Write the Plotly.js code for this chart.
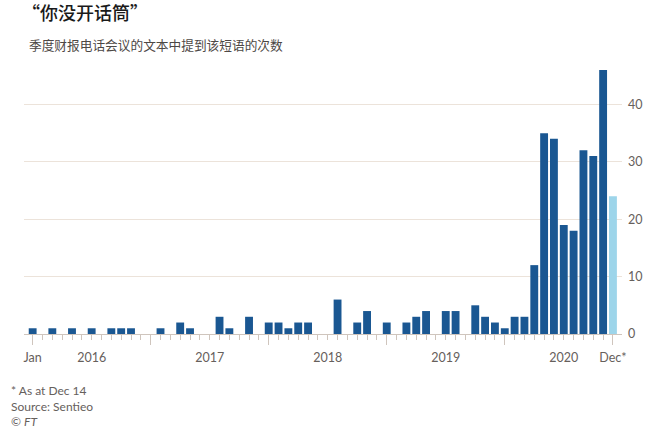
<!DOCTYPE html>
<html>
<head>
<meta charset="utf-8">
<script src="https://cdn.plot.ly/plotly-3.0.1.min.js"></script>
<style>html,body{margin:0;padding:0;background:#fff}#chart{width:649px;height:433px}</style>
</head>
<body>
<div id="chart"></div>
<script>
// Monthly counts, Jan 2016 .. Dec 2020 (Dec 2020 partial, as at Dec 14)
const months = [];
for (let i = 0; i < 60; i++) months.push(i);
const counts = [
  1,0,1,0,1,0,1,0,1,1,1,0,      // 2016
  0,1,0,2,1,0,0,3,1,0,3,0,      // 2017
  2,2,1,2,2,0,0,6,0,2,4,0,      // 2018
  2,0,2,3,4,0,4,4,0,5,3,2,      // 2019
  1,3,3,12,35,34,19,18,32,31,46,24 // 2020
];
const barColors = counts.map((v, i) => i === 59 ? '#9dd5ea' : '#1a5792');
const majorTickVals = [0, 12, 24, 36, 48, 59];
const labelVals = [0, 6, 18, 30, 42, 54, 59];
const labelText = ['Jan', '2016', '2017', '2018', '2019', '2020', 'Dec*'];
const yTickVals = [0, 10, 20, 30, 40];

const FONT = "Lato, 'Noto Sans CJK SC', sans-serif";
const grey = '#66605c';

const data = [
  {
    type: 'bar', x: months, y: counts,
    marker: { color: barColors, line: { width: 0 } },
    hoverinfo: 'skip'
  },
  { type: 'scatter', x: [], y: [], xaxis: 'x2', hoverinfo: 'skip', showlegend: false }
];

const layout = {
  width: 649, height: 433,
  margin: { l: 24, r: 27, t: 65, b: 98.5 },
  paper_bgcolor: '#fff', plot_bgcolor: '#fff',
  showlegend: false,
  bargap: 0.2,
  font: { family: FONT, color: grey, size: 12 },
  title: {
    text: '“你没开话筒”',
    xref: 'container', yref: 'container',
    x: 22 / 649, xanchor: 'left',
    y: 1 - 14 / 433, yanchor: 'middle',
    font: { family: "'Noto Sans CJK SC', sans-serif", size: 18, color: '#1a1a1a', weight: 500 }
  },
  annotations: [
    {
      text: '季度财报电话会议的文本中提到该短语的次数',
      xref: 'paper', yref: 'paper',
      x: (27 - 24) / 598, xanchor: 'left',
      y: (334.5 - 44) / 269.5, yanchor: 'middle',
      showarrow: false,
      font: { family: "'Noto Sans CJK SC', sans-serif", size: 12.7, color: '#4d4845' }
    },
    {
      text: '* As at Dec 14<br>Source: Sentieo<br>© <i>FT</i>',
      xref: 'paper', yref: 'paper',
      x: (9 - 24) / 598, xanchor: 'left',
      y: (334.5 - 382) / 269.5, yanchor: 'top',
      align: 'left',
      showarrow: false,
      font: { family: FONT, size: 12, color: grey }
    }
  ],
  xaxis: {
    range: [-0.88, 59.92],
    fixedrange: true,
    showgrid: false, zeroline: false,
    showline: true, linecolor: '#cfc5bd', linewidth: 1,
    tickmode: 'array', tickvals: majorTickVals,
    ticktext: majorTickVals.map(() => ''),
    ticks: 'outside', ticklen: 10, tickcolor: '#cfc5bd', tickwidth: 1,
    minor: { dtick: 1, tick0: 0, ticks: 'outside', ticklen: 5, tickcolor: '#cfc5bd', tickwidth: 1, showgrid: false }
  },
  xaxis2: {
    overlaying: 'x', matches: 'x', anchor: 'y', side: 'bottom',
    range: [-0.88, 59.92],
    showgrid: false, zeroline: false, showline: false,
    tickmode: 'array', tickvals: labelVals, ticktext: labelText,
    ticks: 'outside', ticklen: 10, tickcolor: 'rgba(0,0,0,0)',
    ticklabelstandoff: 2,
    tickfont: { family: FONT, size: 12.5, color: grey }
  },
  yaxis: {
    range: [0, 46.87],
    fixedrange: true,
    side: 'right',
    tickmode: 'array', tickvals: yTickVals,
    showgrid: true, gridcolor: '#ece3da', gridwidth: 1,
    zeroline: false, showline: false, ticks: '',
    ticklabelstandoff: 5,
    tickfont: { family: FONT, size: 12.5, color: grey }
  }
};

Plotly.newPlot('chart', data, layout, { staticPlot: true, displayModeBar: false });
</script>
</body>
</html>
